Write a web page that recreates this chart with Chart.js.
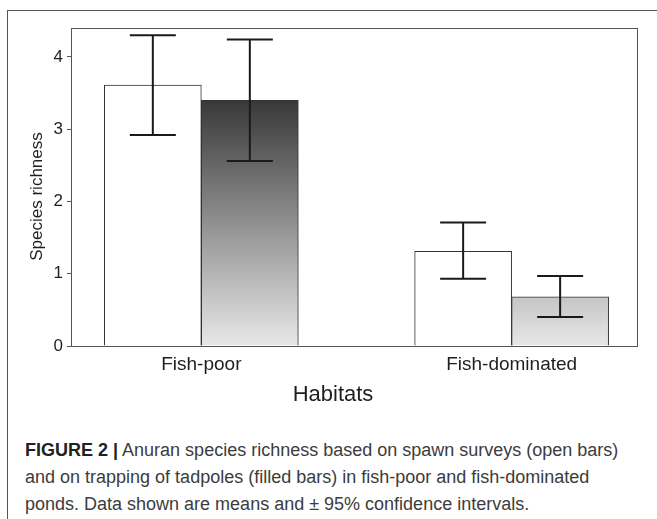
<!DOCTYPE html>
<html>
<head>
<meta charset="utf-8">
<script src="https://cdn.jsdelivr.net/npm/chart.js@4"></script>
<style>
  html, body { margin: 0; padding: 0; background: #fff; width: 657px; height: 519px; overflow: hidden; }
  #frame { position: absolute; left: 7px; top: 10px; width: 700px; height: 600px; border: 1px solid #555; box-sizing: border-box; }
  #chart { position: absolute; left: 0; top: 0; }
  #caption { position: absolute; left: 25px; top: 437px; font-family: "Liberation Sans", Arial, sans-serif; font-size: 18px; line-height: 27px; color: #3c3c3c; white-space: nowrap; }
  #caption b { color: #222; }
</style>
</head>
<body>
<div id="frame"></div>
<canvas id="chart" width="657" height="420"></canvas>
<div id="caption"><b>FIGURE 2 |</b> Anuran species richness based on spawn surveys (open bars)<br>and on trapping of tadpoles (filled bars) in fish-poor and fish-dominated<br>ponds. Data shown are means and ± 95% confidence intervals.</div>
<script>
// Habitat groups and per-group means with 95% confidence limits
const categories = ['Fish-poor', 'Fish-dominated'];
const spawnMeans = [3.61, 1.31];
const spawnLow = [2.92, 0.93];
const spawnHigh = [4.30, 1.71];
const tadpoleMeans = [3.40, 0.68];
const tadpoleLow = [2.56, 0.40];
const tadpoleHigh = [4.24, 0.97];
const yTicks = [0, 1, 2, 3, 4];
const yTitle = 'Species richness';
const xTitle = 'Habitats';

const FONT = '"Liberation Sans", Arial, sans-serif';
const TEXT = '#1e1e1e';

const toPoints = (vals) => vals.map((v, i) => ({ x: i + 1, y: v }));

// Shared vertical gradient for the filled bars: light at zero, dark near the tallest bar
function tadpoleFill(ctx) {
  const chart = ctx.chart;
  if (!chart.chartArea) return '#888';
  const ys = chart.scales.y;
  const g = chart.ctx.createLinearGradient(0, ys.getPixelForValue(0), 0, ys.getPixelForValue(Math.max(...tadpoleMeans)));
  g.addColorStop(0, '#e8e8e8');
  g.addColorStop(1, '#383838');
  return g;
}

// Confidence-interval whiskers and the closed frame around the plot area
const extras = {
  id: 'extras',
  afterDatasetsDraw(chart) {
    const { ctx, scales: { y } } = chart;
    ctx.save();
    ctx.strokeStyle = '#1a1a1a';
    ctx.lineWidth = 2;
    chart.data.datasets.forEach((ds, i) => {
      const meta = chart.getDatasetMeta(i);
      meta.data.forEach((bar, j) => {
        const x = bar.x;
        const yl = y.getPixelForValue(ds.ciLow[j]);
        const yh = y.getPixelForValue(ds.ciHigh[j]);
        const half = 23;
        ctx.beginPath();
        ctx.moveTo(x, yl); ctx.lineTo(x, yh);
        ctx.moveTo(x - half, yl); ctx.lineTo(x + half, yl);
        ctx.moveTo(x - half, yh); ctx.lineTo(x + half, yh);
        ctx.stroke();
      });
    });
    const a = chart.chartArea;
    ctx.strokeStyle = '#555';
    ctx.lineWidth = 1;
    ctx.strokeRect(Math.round(a.left) + 0.5, Math.round(a.top) + 0.5, Math.round(a.right - a.left), Math.round(a.bottom - a.top));
    ctx.restore();
  },
  afterDraw(chart) {
    const { ctx } = chart;
    ctx.save();
    ctx.fillStyle = TEXT;
    ctx.textAlign = 'center';
    ctx.textBaseline = 'alphabetic';
    ctx.font = '22px ' + FONT;
    ctx.fillText(xTitle, 333, 401);
    ctx.translate(41.5, 196.5);
    ctx.rotate(-Math.PI / 2);
    ctx.font = '17px ' + FONT;
    ctx.fillText(yTitle, 0, 0);
    ctx.restore();
  }
};

new Chart(document.getElementById('chart'), {
  type: 'bar',
  data: {
    datasets: [
      {
        label: 'Spawn surveys',
        data: toPoints(spawnMeans),
        ciLow: spawnLow,
        ciHigh: spawnHigh,
        backgroundColor: '#ffffff',
        borderColor: '#333',
        borderWidth: 1,
        barThickness: 97
      },
      {
        label: 'Tadpole trapping',
        data: toPoints(tadpoleMeans),
        ciLow: tadpoleLow,
        ciHigh: tadpoleHigh,
        backgroundColor: tadpoleFill,
        borderColor: '#333',
        borderWidth: 1,
        barThickness: 97
      }
    ]
  },
  options: {
    responsive: false,
    animation: false,
    devicePixelRatio: 1,
    layout: { padding: { left: 0, top: 28, right: 20, bottom: 0 } },
    plugins: { legend: { display: false }, tooltip: { enabled: false } },
    scales: {
      x: {
        type: 'linear',
        offset: false,
        min: 0.58,
        max: 2.404,
        afterFit: (s) => { s.height = 74; },
        afterBuildTicks: (s) => { s.ticks = categories.map((c, i) => ({ value: i + 1 })); },
        grid: { display: true, drawOnChartArea: false, drawTicks: false },
        border: { display: true, color: '#444', width: 1 },
        ticks: {
          padding: 7,
          color: TEXT,
          font: { family: FONT, size: 19 },
          callback: (v) => categories[Math.round(v) - 1] || ''
        }
      },
      y: {
        min: 0,
        max: 4.4,
        afterFit: (s) => { s.width = 71; },
        afterBuildTicks: (s) => { s.ticks = yTicks.map((v) => ({ value: v })); },
        grid: { display: true, drawOnChartArea: false, drawTicks: true, tickLength: 4, color: '#555' },
        border: { display: true, color: '#444', width: 1 },
        ticks: {
          padding: 4,
          color: TEXT,
          font: { family: FONT, size: 17 }
        }
      }
    }
  },
  plugins: [extras]
});
</script>
</body>
</html>
